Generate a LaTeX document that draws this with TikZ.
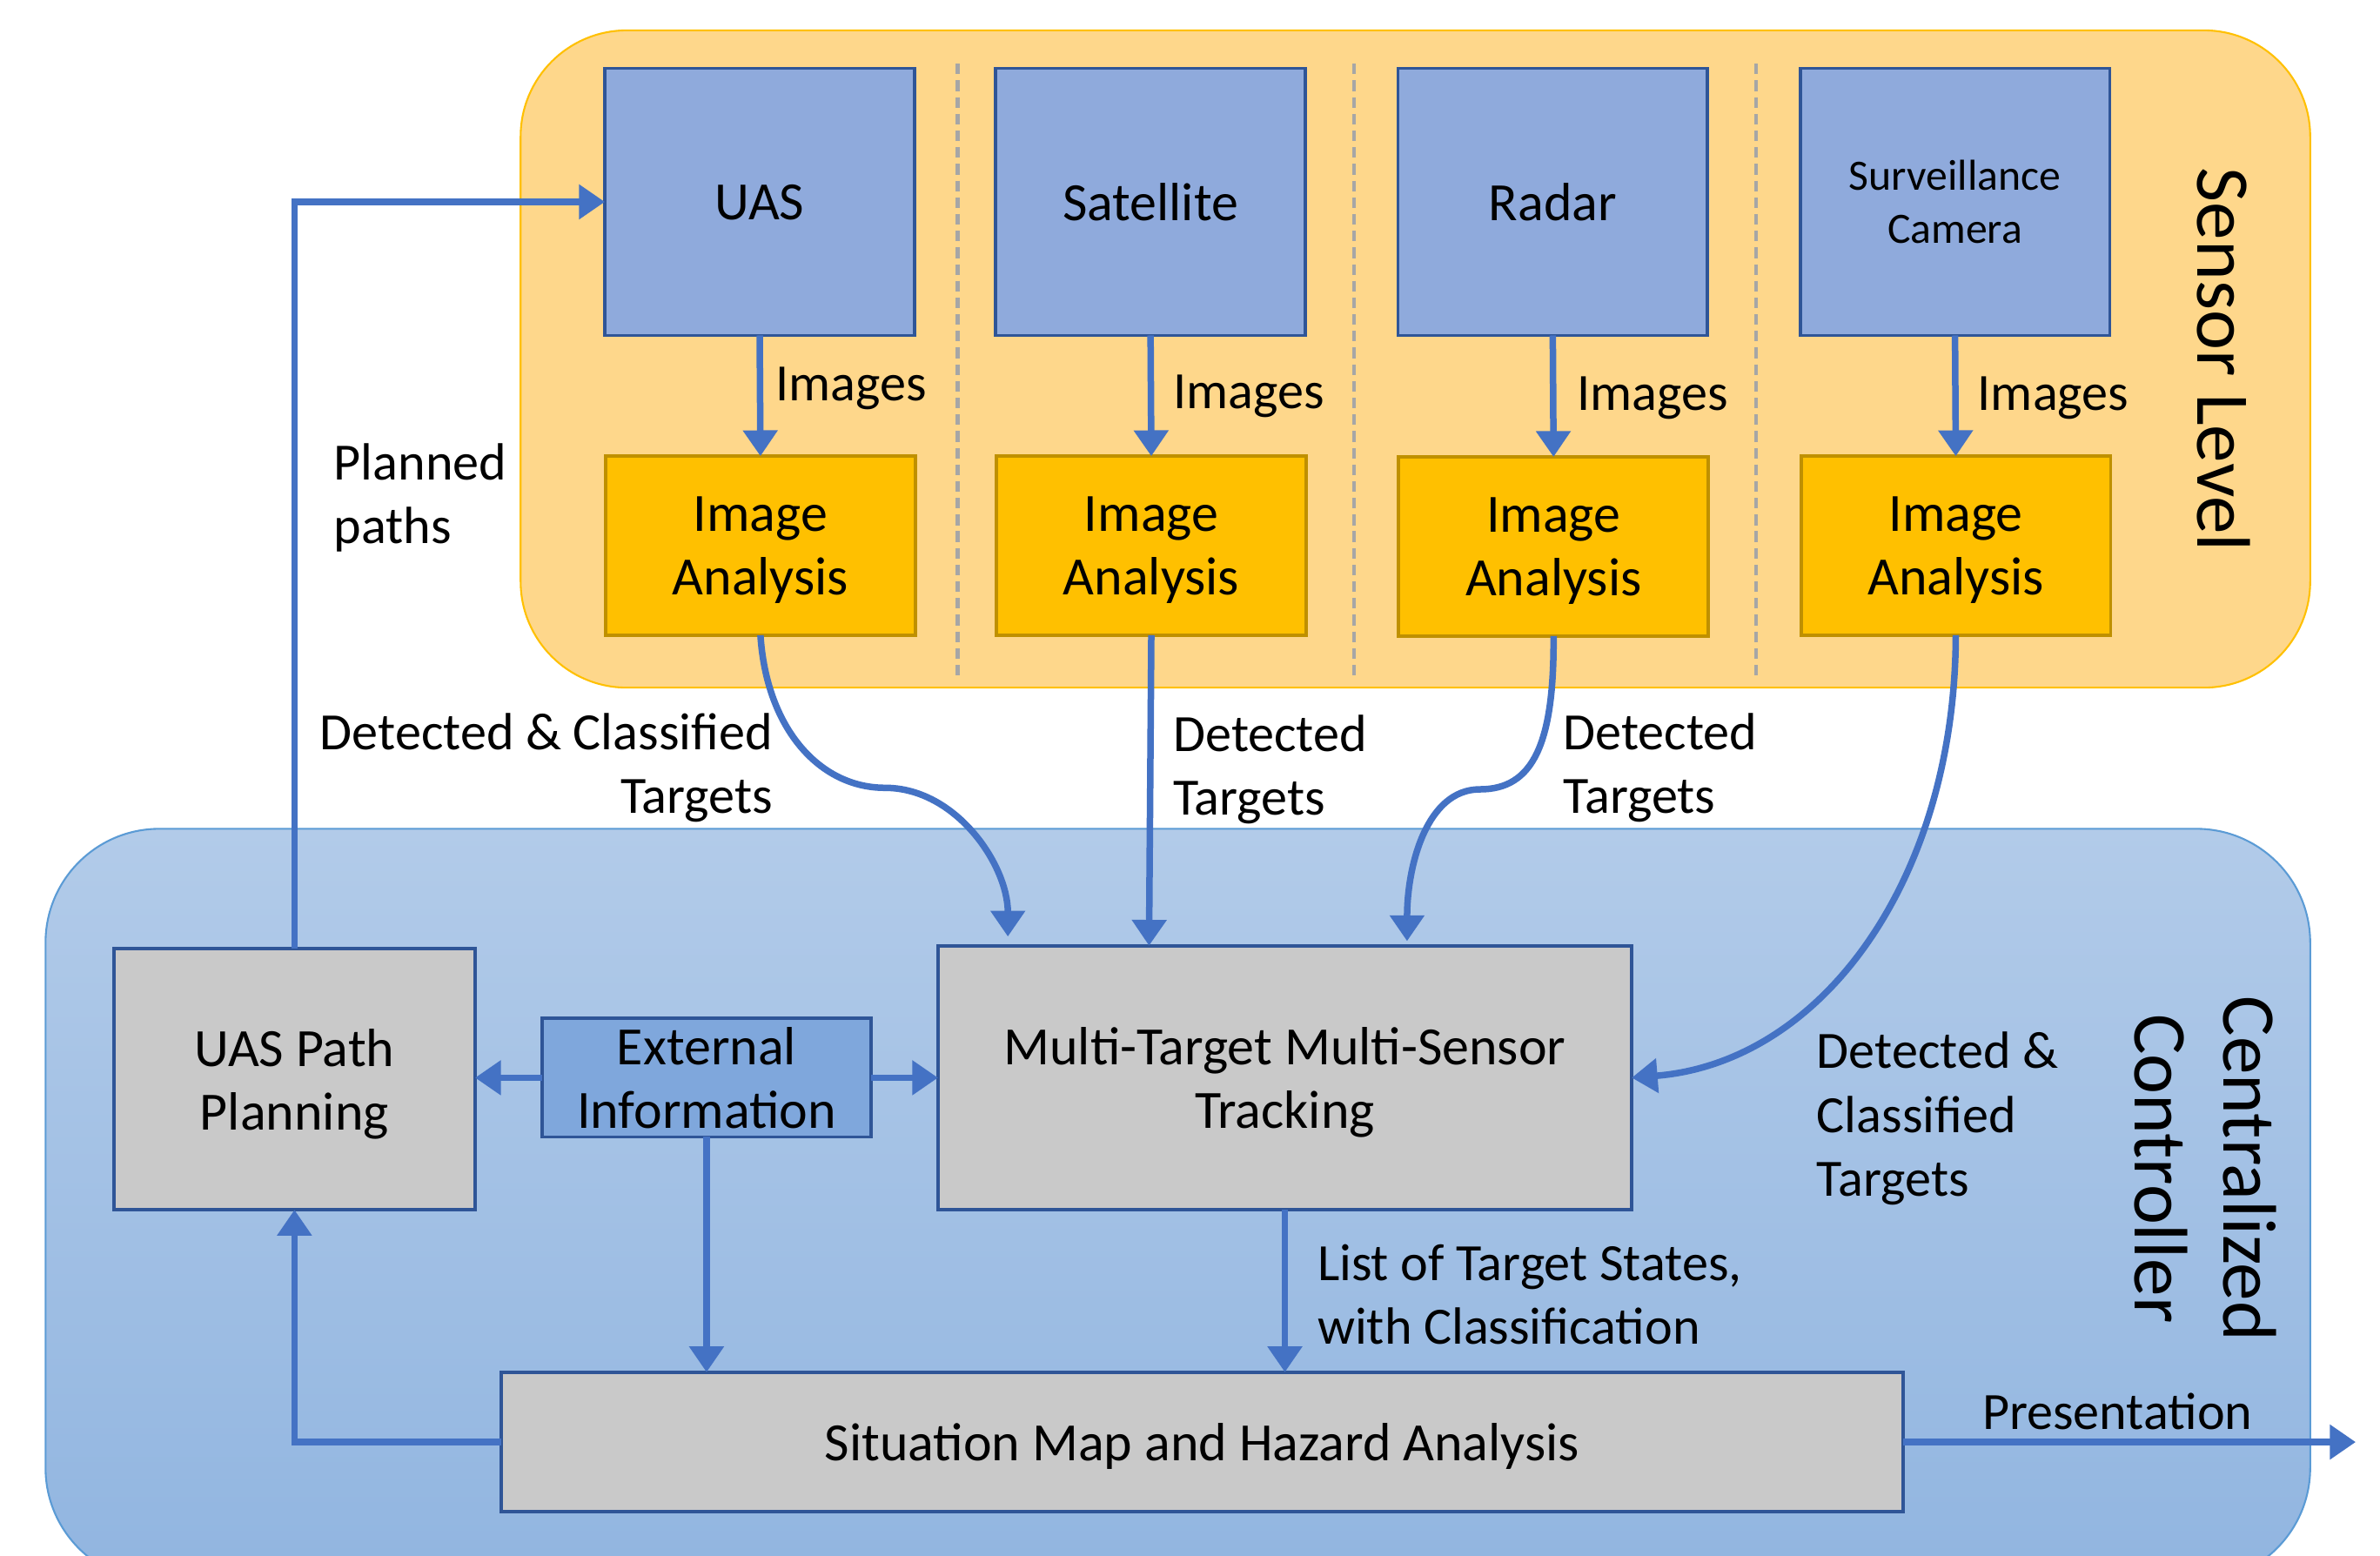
\documentclass[tikz,border=0pt]{standalone}
\usepackage{fontspec}
\setmainfont{Carlito}
\usetikzlibrary{arrows.meta,calc}
\definecolor{orfill}{HTML}{FED78B}
\definecolor{orborder}{HTML}{FFC000}
\definecolor{sensfill}{HTML}{8FAADC}
\definecolor{boxborder}{HTML}{2F5597}
\definecolor{iafill}{HTML}{FFC000}
\definecolor{iaborder}{HTML}{BF9000}
\definecolor{bluetop}{HTML}{B2CBE9}
\definecolor{bluebot}{HTML}{91B5E0}
\definecolor{blueborder}{HTML}{5B9BD5}
\definecolor{grayfill}{HTML}{C9C9C9}
\definecolor{extfill}{HTML}{7FA7DC}
\definecolor{arrowblue}{HTML}{4472C4}
\definecolor{sepgray}{HTML}{A6A6A6}
\begin{document}
\begin{tikzpicture}[x=1pt,y=-1pt,
  font=\fontsize{34.5}{42}\selectfont,
  boxfont/.style={font=\fontsize{35.5}{42}\selectfont, text depth=0pt},
  sensorbox/.style={boxfont, draw=boxborder, line width=2.2pt, fill=sensfill, minimum width=204pt, minimum height=176pt, inner sep=0pt, outer sep=0pt, align=center},
  iabox/.style={boxfont, draw=iaborder, line width=2.2pt, fill=iafill, minimum width=204pt, minimum height=118pt, inner sep=0pt, outer sep=0pt, align=center},
  graybox/.style={boxfont, draw=boxborder, line width=2.2pt, fill=grayfill, inner sep=0pt, outer sep=0pt, align=center},
  conn/.style={draw=arrowblue, line width=4.3pt, -{Triangle[width=22pt,length=17pt]}},
  lbl/.style={inner sep=0pt, outer sep=0pt},
  sep/.style={draw=sepgray, line width=2.5pt, dash pattern=on 7pt off 4pt},
]
\useasboundingbox (0,0) rectangle (1568,1025);
\fill[white] (0,0) rectangle (1568,1025);
% containers
\draw[draw=orborder, line width=1.2pt, fill=orfill, rounded corners=70pt] (343,20) rectangle (1522,453);
\draw[draw=blueborder, line width=1.2pt, top color=bluetop, bottom color=bluebot, rounded corners=75pt] (30,546) rectangle (1522,1042);
% separators
\draw[sep] (631,42) -- (631,445);
\draw[sep] (892,42) -- (892,445);
\draw[sep] (1157,42) -- (1157,445);
% sensor boxes
\node[sensorbox] (uas) at (500.5,133) {UAS};
\node[sensorbox] (sat) at (758,133) {Satellite};
\node[sensorbox, font=\fontsize{28.5}{35}\selectfont] (cam) at (1288,133) {Surveillance\\Camera};
\node[sensorbox] (rad) at (1023,133) {Radar};
% image analysis
\node[iabox] (ia1) at (501,359.5) {Image\\Analysis};
\node[iabox] (ia2) at (758.5,359.5) {Image\\Analysis};
\node[iabox] (ia3) at (1023.5,360) {Image\\Analysis};
\node[iabox] (ia4) at (1288.5,359.5) {Image\\Analysis};
% controller boxes
\node[graybox, minimum width=238pt, minimum height=172pt] (pp) at (194,711) {UAS Path\\Planning};
\node[graybox, fill=extfill, minimum width=217pt, minimum height=78pt] (ext) at (465.5,710) {External\\Information};
\node[graybox, minimum width=457pt, minimum height=174pt] (mt) at (846.5,710) {Multi-Target Multi-Sensor\\Tracking};
\node[graybox, minimum width=924pt, minimum height=92pt] (sm) at (792,950) {Situation Map and Hazard Analysis};
\coordinate (pres) at (1552,950);
% connectors
\draw[conn] (uas.south) -- (ia1.north);
\draw[conn] (sat.south) -- (ia2.north);
\draw[conn] (rad.south) -- (ia3.north);
\draw[conn] (cam.south) -- (ia4.north);
\draw[conn] (pp.north) |- (uas.west);
\draw[conn] (ext.west) -- (ext.west -| pp.east);
\draw[conn] (ext.east) -- (ext.east -| mt.west);
\draw[conn] (ext.south) -- (ext.south |- sm.north);
\draw[conn] (mt.south) -- (mt.south |- sm.north);
\draw[conn] (sm.west) -| (pp.south);
\draw[conn] (sm.east) -- (pres);
\draw[conn] (ia1.south) .. controls (505,480) and (540,519) .. (583,519)
  .. controls (630,519) and (664,570) .. ($(mt.north west)+(46,-6)$);
\draw[conn] (ia2.south) -- ($(ia2.south |- mt.north)+(-1.5,0)$);
\draw[conn] (ia3.south) .. controls (1024,490) and (1010,520) .. (975,520)
  .. controls (940,520) and (927,570) .. ($(mt.north west)+(309,-3)$);
\draw[conn] (ia4.south) .. controls (1288,580) and (1200,700) .. (mt.east);
% labels
\node[lbl, anchor=west] (im1) at (511,256) {Images};
\node[lbl, anchor=west] (im2) at (773,261) {Images};
\node[lbl, anchor=west] (im3) at (1039,262) {Images};
\node[lbl, anchor=west] (im4) at (1303,262) {Images};
\node[lbl, anchor=west, align=left] (plp) at (220,328) {Planned\\paths};
\node[lbl, anchor=east, align=right] (dc1) at (509,506) {Detected \& Classified\\Targets};
\node[lbl, anchor=west, align=left] (dt2) at (773,507) {Detected\\Targets};
\node[lbl, anchor=west, align=left] (dt3) at (1030,506) {Detected\\Targets};
\node[lbl, anchor=west, align=left] (dc4) at (1197,737) {Detected \&\\Classified\\Targets};
\node[lbl, anchor=west, align=left] (lts) at (868,853) {List of Target States,\\with Classification};
\node[lbl] (prl) at (1395,930) {Presentation};
\node[lbl, rotate=-90, font=\fontsize{50}{60}\selectfont] (sl) at (1465,237) {Sensor Level};
\node[lbl, rotate=-90, align=center, font=\fontsize{50}{58}\selectfont] (cc) at (1453,770) {Centralized\\Controller};
\end{tikzpicture}
\end{document}
